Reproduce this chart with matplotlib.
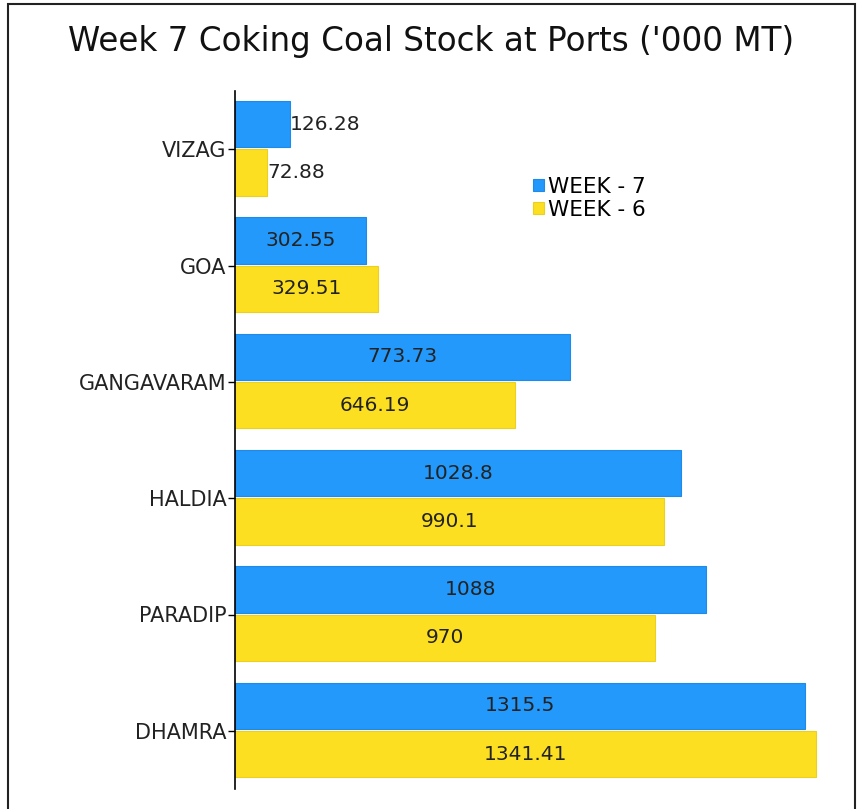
import matplotlib.pyplot as plt
from matplotlib.patches import Rectangle

# data
ports = ['VIZAG', 'GOA', 'GANGAVARAM', 'HALDIA', 'PARADIP', 'DHAMRA']
week7 = [126.28, 302.55, 773.73, 1028.8, 1088, 1315.5]
week6 = [72.88, 329.51, 646.19, 990.1, 970, 1341.41]
week7_labels = ['126.28', '302.55', '773.73', '1028.8', '1088', '1315.5']
week6_labels = ['72.88', '329.51', '646.19', '990.1', '970', '1341.41']

blue = '#2299fb'
yellow = '#fddf21'

plt.rcParams['font.family'] = ['DejaVu Sans']

fig = plt.figure(figsize=(8.63, 8.09), dpi=100)
ax = fig.add_axes([235 / 863, 1 - 789 / 809, 600 / 863, 698 / 809])

ypos = list(range(len(ports)))
h = 0.4
b7 = ax.barh([y - 0.215 for y in ypos], week7, height=h, color=blue,
             edgecolor='#1f8ae8', linewidth=0.8, label='WEEK - 7')
b6 = ax.barh([y + 0.2 for y in ypos], week6, height=h, color=yellow,
             edgecolor='#ecd020', linewidth=0.8, label='WEEK - 6')

# value labels: centred in the bar, short bars get them just past the end
for bars, labels in ((b7, week7_labels), (b6, week6_labels)):
    for bar, lab in zip(bars, labels):
        v = bar.get_width()
        yc = bar.get_y() + bar.get_height() / 2
        if v < 150:
            ax.text(v + 1, yc, lab, ha='left', va='center', fontsize=14.5, color='#222222')
        else:
            ax.text(v / 2, yc, lab, ha='center', va='center', fontsize=14.5, color='#222222')

ax.set_xlim(0, 1385)
ax.set_ylim(5.5, -0.5)
ax.set_yticks(ypos)
ax.set_yticklabels(ports, fontsize=15, color='#222222')
ax.tick_params(axis='y', length=5, width=1, pad=1)
ax.set_xticks([])
for s in ('top', 'right', 'bottom'):
    ax.spines[s].set_visible(False)
ax.spines['left'].set_linewidth(1.2)

leg = ax.legend(loc='upper left', bbox_to_anchor=(522 / 863, 1 - 166 / 809),
                bbox_transform=fig.transFigure, frameon=False, fontsize=15.5,
                handlelength=0.5, handleheight=0.5, handletextpad=0.2,
                labelspacing=0.15, borderpad=0)

fig.text(0.5, 1 - 41 / 809, "Week 7 Coking Coal Stock at Ports ('000 MT)",
         ha='center', va='center', fontsize=23.5, color='#111111')

# thin frame around the whole picture
fig.patches.append(Rectangle((8 / 863, -0.01), 847 / 863, 1 - 4 / 809 + 0.01,
                             transform=fig.transFigure, fill=False,
                             edgecolor='#222222', linewidth=1.5))

fig.savefig('out.png', dpi=100)
